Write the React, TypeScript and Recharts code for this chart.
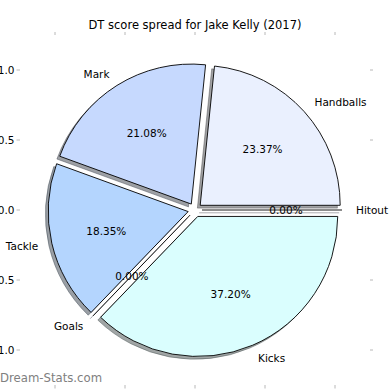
import React from 'react';
import { PieChart, Pie, Sector, ScatterChart, Scatter, XAxis, YAxis } from 'recharts';

const categories = ['Handballs', 'Mark', 'Tackle', 'Goals', 'Kicks', 'Hitout'];
const shares = [23.37, 21.08, 18.35, 0, 37.2, 0];
const colors = ['#eaf0fe', '#c6d9fe', '#b4d5fe', '#b8c8f0', '#dafefe', '#e0e6ff'];
const axisTicks = [-1, -0.5, 0, 0.5, 1];
const title = 'DT score spread for Jake Kelly (2017)';
const watermark = 'Dream-Stats.com';

const data = categories.map((name, i) => ({ name, value: shares[i], fill: colors[i] }));

const EXPLODE = 0.05;
const SHADOW = 0.02;
const RAD = Math.PI / 180;
const FONT = 'DejaVu Sans';

function shadowColor(hex: string) {
  const r = parseInt(hex.slice(1, 3), 16);
  const g = parseInt(hex.slice(3, 5), 16);
  const b = parseInt(hex.slice(5, 7), 16);
  return `rgb(${Math.round(r * 0.3)},${Math.round(g * 0.3)},${Math.round(b * 0.3)})`;
}

function geom(props: any, dxf: number, dyf: number) {
  const { cx, cy, outerRadius, startAngle, endAngle } = props;
  const mid = (startAngle + endAngle) / 2;
  const x = cx + EXPLODE * outerRadius * Math.cos(-mid * RAD) + dxf * outerRadius;
  const y = cy + EXPLODE * outerRadius * Math.sin(-mid * RAD) + dyf * outerRadius;
  return { x, y, mid };
}

function WedgeShape(props: any) {
  const { outerRadius, startAngle, endAngle, fill } = props;
  const { x, y, mid } = geom(props, 0, 0);
  if (Math.abs(endAngle - startAngle) < 1e-6) {
    return (
      <line x1={x} y1={y} x2={x + outerRadius * Math.cos(-mid * RAD)} y2={y + outerRadius * Math.sin(-mid * RAD)}
        stroke="#000" strokeWidth={0.9} />
    );
  }
  return (
    <Sector cx={x} cy={y} innerRadius={0} outerRadius={outerRadius} startAngle={startAngle} endAngle={endAngle}
      fill={fill} stroke="#000" strokeWidth={0.9} />
  );
}

function ShadowShape(props: any) {
  const { outerRadius, startAngle, endAngle, payload } = props;
  const fill = shadowColor((payload && payload.fill) || props.fill || '#cccccc');
  const { x, y, mid } = geom(props, -SHADOW, SHADOW);
  if (Math.abs(endAngle - startAngle) < 1e-6) {
    return (
      <line x1={x} y1={y} x2={x + outerRadius * Math.cos(-mid * RAD)} y2={y + outerRadius * Math.sin(-mid * RAD)}
        stroke={fill} strokeOpacity={0.5} strokeWidth={0.9} />
    );
  }
  return (
    <Sector cx={x} cy={y} innerRadius={0} outerRadius={outerRadius} startAngle={startAngle} endAngle={endAngle}
      fill={fill} fillOpacity={0.5} stroke={fill} strokeOpacity={0.5} strokeWidth={0.9} />
  );
}

function renderLabel(props: any) {
  const { cx, cy, outerRadius, startAngle, endAngle, name, value } = props;
  const mid = (startAngle + endAngle) / 2;
  const c = Math.cos(-mid * RAD);
  const s = Math.sin(-mid * RAD);
  const rl = outerRadius * (1.1 + EXPLODE);
  const rp = outerRadius * (0.6 + EXPLODE);
  const lx = cx + rl * c;
  const ly = cy + rl * s;
  const px = cx + rp * c;
  const py = cy + rp * s;
  return (
    <g>
      <text x={lx} y={ly} textAnchor={c > 1e-9 ? 'start' : 'end'} dominantBaseline="central"
        fontFamily={FONT} fontSize={10.5} fill="#000">{name}</text>
      <text x={px} y={py} textAnchor="middle" dominantBaseline="central"
        fontFamily={FONT} fontSize={10.5} fill="#000">{`${Number(value).toFixed(2)}%`}</text>
    </g>
  );
}

const fmt = (v: number) => (v < 0 ? '\u2212' : '') + Math.abs(v).toFixed(1);
const tickStyle = { fontFamily: FONT, fontSize: 10.5, fill: '#000' };
const tickLine = { stroke: '#b8b8b8', strokeWidth: 1 };

export default function App() {
  return (
    <div style={{ position: 'absolute', left: 0, top: 0, width: 390, height: 390, background: '#fff' }}>
      <div style={{ position: 'absolute', left: 0, top: 0 }}>
        <ScatterChart width={390} height={390} margin={{ top: 0, right: 0, bottom: 0, left: 0 }}>
          <XAxis xAxisId="b" type="number" dataKey="x" orientation="bottom" domain={[-1.25, 1.25]} ticks={axisTicks}
            allowDataOverflow height={5} axisLine={false} tickLine={tickLine} tickSize={3.5} tick={tickStyle}
            tickFormatter={fmt} interval={0} />
          <XAxis xAxisId="t" type="number" dataKey="x" orientation="top" domain={[-1.25, 1.25]} ticks={axisTicks}
            allowDataOverflow height={35} axisLine={false} tickLine={tickLine} tickSize={3} tick={tickStyle}
            tickFormatter={() => ''} interval={0} />
          <YAxis yAxisId="l" type="number" dataKey="y" orientation="left" domain={[-1.25, 1.25]} ticks={axisTicks}
            allowDataOverflow width={20} axisLine={false} tickLine={tickLine} tickSize={3.5} tick={tickStyle}
            tickFormatter={fmt} interval={0} />
          <YAxis yAxisId="r" type="number" dataKey="y" orientation="right" domain={[-1.25, 1.25]} ticks={axisTicks}
            allowDataOverflow width={20} axisLine={false} tickLine={tickLine} tickSize={3} tick={tickStyle}
            tickFormatter={() => ''} interval={0} />
          <Scatter xAxisId="b" yAxisId="l" data={[]} isAnimationActive={false} />
        </ScatterChart>
      </div>
      <div style={{ position: 'absolute', left: 0, top: 0 }}>
        <PieChart width={390} height={390} margin={{ top: 0, right: 0, bottom: 0, left: 0 }}>
          <Pie data={data} dataKey="value" nameKey="name" cx={195} cy={210} outerRadius={140} startAngle={0}
            endAngle={360} isAnimationActive={false} shape={ShadowShape} label={false} labelLine={false} />
          <Pie data={data} dataKey="value" nameKey="name" cx={195} cy={210} outerRadius={140} startAngle={0}
            endAngle={360} isAnimationActive={false} shape={WedgeShape} label={renderLabel} labelLine={false} />
        </PieChart>
      </div>
      <svg width={390} height={390} style={{ position: 'absolute', left: 0, top: 0, pointerEvents: 'none' }}>
        <text x={195} y={29} textAnchor="middle" fontFamily={FONT} fontSize={11.5} fill="#000">{title}</text>
        <text x={0} y={382} textAnchor="start" fontFamily={FONT} fontSize={11.7} fill="#808080">{watermark}</text>
      </svg>
    </div>
  );
}
